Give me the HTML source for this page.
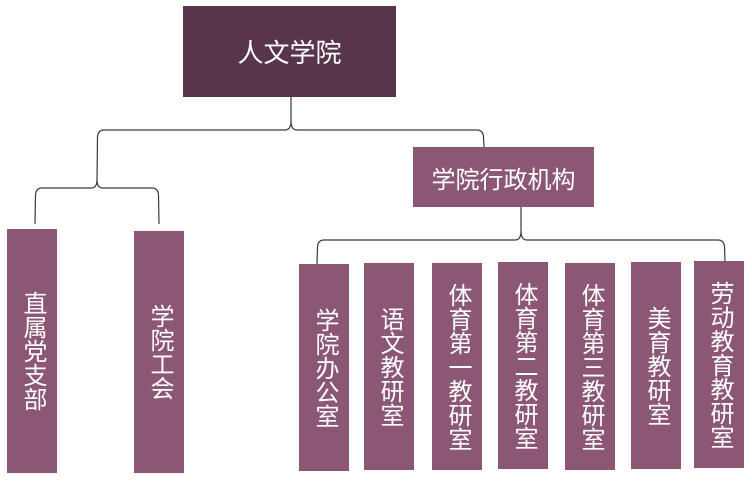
<!DOCTYPE html>
<html><head><meta charset="utf-8">
<style>
html,body{margin:0;padding:0;background:#fff;}
body{width:752px;height:489px;position:relative;overflow:hidden;font-family:"Liberation Sans","Noto Sans CJK SC",sans-serif;}
.b{position:absolute;background:#8c5774;color:#fff;display:flex;align-items:center;justify-content:center;}
.v span{writing-mode:vertical-rl;text-orientation:upright;font-size:24px;line-height:24px;letter-spacing:0;}
svg{position:absolute;left:0;top:0;}
</style></head><body>
<svg width="752" height="489" viewBox="0 0 752 489">
<g fill="none" stroke="#3a3a3a" stroke-width="1.2">
<path d="M291,97 L291,121 Q291,130 285,130 L104,130 Q98,130 97.5,137 L97,180 Q97,188 91,188 L42,188 Q36,188 35.5,195 L35,224"/>
<path d="M291,121 Q291,130 297,130 L477,130 Q483,130 483.5,137 L484,147"/>
<path d="M97,180 Q97,188 103,188 L152,188 Q158,188 158.5,195 L159,224"/>
<path d="M521,207 L521,231 Q521,240 515,240 L324,240 Q318,240 317.5,247 L317,264"/>
<path d="M521,231 Q521,240 527,240 L718,240 Q724,240 724.5,247 L725,261"/>
</g>
</svg>
<div class="b" style="left:183px;top:6px;width:213px;height:91px;background:#58354a;font-size:26px;">人文学院</div>
<div class="b" style="left:413px;top:147px;width:181px;height:60px;font-size:24px;">学院行政机构</div>
<div class="b v" style="left:7px;top:229px;width:50px;height:244px;"><span>直属党支部</span></div>
<div class="b v" style="left:134px;top:231px;width:50px;height:242px;"><span>学院工会</span></div>
<div class="b v" style="left:299px;top:264px;width:50px;height:207px;"><span>学院办公室</span></div>
<div class="b v" style="left:364px;top:263px;width:50px;height:207px;"><span>语文教研室</span></div>
<div class="b v" style="left:432px;top:263px;width:50px;height:207px;"><span>体育第一教研室</span></div>
<div class="b v" style="left:498px;top:262px;width:50px;height:207px;"><span>体育第二教研室</span></div>
<div class="b v" style="left:565px;top:263px;width:50px;height:207px;"><span>体育第三教研室</span></div>
<div class="b v" style="left:631px;top:262px;width:50px;height:207px;"><span>美育教研室</span></div>
<div class="b v" style="left:694px;top:261px;width:50px;height:207px;"><span>劳动教育教研室</span></div>
</body></html>
